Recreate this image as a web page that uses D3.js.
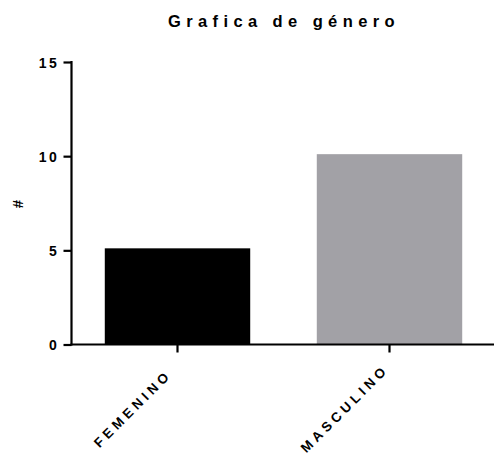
<!DOCTYPE html>
<html>
<head>
<meta charset="utf-8">
<script src="https://cdn.jsdelivr.net/npm/d3@7"></script>
<style>
  html, body { margin: 0; padding: 0; background: #fff; }
  svg { display: block; }
  text { font-family: "Liberation Sans", Arial, sans-serif; font-weight: bold; fill: #000; }
</style>
</head>
<body>
<script>
// Gender counts
const categories = ["FEMENINO", "MASCULINO"];
const counts = [5, 10];
const barColors = ["#000000", "#a2a1a6"];
const yTicks = [0, 5, 10, 15];

const width = 494, height = 457;
const svg = d3.select("body").append("svg")
  .attr("width", width).attr("height", height);

const y = d3.scaleLinear().domain([0, 15]).range([344.5, 62]);
const x = d3.scaleBand().domain(categories)
  .range([71.5, 495.5]).paddingInner(0.314).paddingOuter(0.157);

// Title
svg.append("text")
  .attr("x", 284).attr("y", 27)
  .attr("text-anchor", "middle")
  .style("font-size", "16.5px")
  .style("letter-spacing", "5.4px")
  .text("Grafica de género");

// Bars
svg.selectAll("rect.bar").data(categories).join("rect")
  .attr("class", "bar")
  .attr("x", d => x(d))
  .attr("width", x.bandwidth())
  .attr("y", (d, i) => y(counts[i]) - 2)
  .attr("height", (d, i) => y(0) - y(counts[i]) + 2)
  .attr("fill", (d, i) => barColors[i]);

// Y axis
const yAxis = svg.append("g")
  .attr("transform", "translate(71.5,0)")
  .call(d3.axisLeft(y).tickValues(yTicks).tickSize(8).tickPadding(6));
yAxis.select(".domain").remove();
yAxis.append("line")
  .attr("x1", 0).attr("x2", 0).attr("y1", 61).attr("y2", 345.5)
  .attr("stroke", "#000").attr("stroke-width", 2.2);
yAxis.selectAll(".tick line").attr("stroke", "#000").attr("stroke-width", 2.2);
yAxis.selectAll(".tick text")
  .style("font-size", "14px")
  .style("letter-spacing", "2.6px")
  .attr("x", -12)
  .attr("dy", "0.36em");

// X axis
const xAxis = svg.append("g")
  .attr("transform", "translate(0,344.5)")
  .call(d3.axisBottom(x).tickSize(8).tickPadding(6));
xAxis.select(".domain").remove();
xAxis.append("line")
  .attr("x1", 70.4).attr("x2", 494).attr("y1", 0).attr("y2", 0)
  .attr("stroke", "#000").attr("stroke-width", 2.2);
xAxis.selectAll(".tick line").attr("stroke", "#000").attr("stroke-width", 2.2);
xAxis.selectAll(".tick text")
  .style("font-size", "13.5px")
  .style("letter-spacing", "4px")
  .attr("text-anchor", "middle")
  .attr("dy", "0.36em")
  .attr("transform", "translate(-45,64) rotate(-45)")
  .attr("y", 0).attr("x", 0);

// Y axis title
svg.append("text")
  .attr("transform", "translate(23,204) rotate(-90)")
  .attr("text-anchor", "middle")
  .style("font-size", "15px")
  .text("#");
</script>
</body>
</html>
